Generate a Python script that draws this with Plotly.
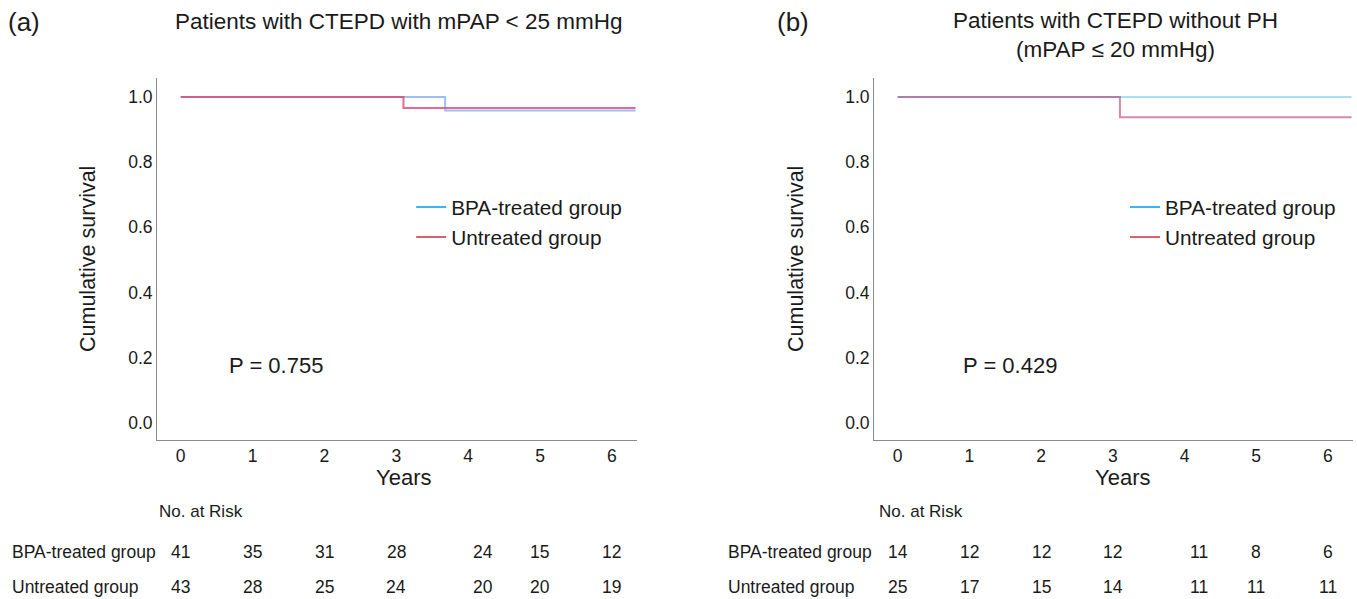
import plotly.graph_objects as go

# ---------------- data ----------------
years_ticks = [0, 1, 2, 3, 4, 5, 6]
y_ticks = [0.0, 0.2, 0.4, 0.6, 0.8, 1.0]

# Panel (a): Kaplan-Meier steps (time, survival)
a_bpa_t = [0, 3.68, 6.33]
a_bpa_s = [1.0, 0.958, 0.958]
a_unt_t = [0, 3.10, 6.33]
a_unt_s = [1.0, 0.966, 0.966]

# Panel (b)
b_bpa_t = [0, 6.33]
b_bpa_s = [1.0, 1.0]
b_unt_t = [0, 3.10, 6.33]
b_unt_s = [1.0, 0.938, 0.938]

a_risk_bpa = [41, 35, 31, 28, 24, 15, 12]
a_risk_unt = [43, 28, 25, 24, 20, 20, 19]
b_risk_bpa = [14, 12, 12, 12, 11, 8, 6]
b_risk_unt = [25, 17, 15, 14, 11, 11, 11]

a_p = "P = 0.755"
b_p = "P = 0.429"
a_title = "Patients with CTEPD with mPAP < 25 mmHg"
b_title = "Patients with CTEPD without PH<br>(mPAP ≤ 20 mmHg)"
group_names = ["BPA-treated group", "Untreated group"]

# ---------------- styling ----------------
FONT = "Liberation Sans, Arial, sans-serif"
TXT = "#1a1a1a"
AX = "#8a8a8a"
LEG_BLUE = "#3cb4f0"
LEG_RED = "#d6606c"
W, H = 1357, 599
COL_SHIFT = [0, 0, 0, 0, 15, 0, 0]  # pixel nudge of risk-table columns

fig = go.Figure()

# panel a lines
fig.add_trace(go.Scatter(x=a_bpa_t, y=a_bpa_s, mode="lines", line_shape="hv",
                         line=dict(color="rgba(100,160,240,0.65)", width=2),
                         xaxis="x", yaxis="y", showlegend=False))
fig.add_trace(go.Scatter(x=a_unt_t, y=a_unt_s, mode="lines", line_shape="hv",
                         line=dict(color="rgba(220,70,110,0.8)", width=2),
                         xaxis="x", yaxis="y", showlegend=False))
# panel b lines
fig.add_trace(go.Scatter(x=b_bpa_t, y=b_bpa_s, mode="lines", line_shape="hv",
                         line=dict(color="rgba(110,200,245,0.6)", width=2),
                         xaxis="x2", yaxis="y2", showlegend=False))
fig.add_trace(go.Scatter(x=b_unt_t, y=b_unt_s, mode="lines", line_shape="hv",
                         line=dict(color="rgba(180,60,120,0.6)", width=2),
                         xaxis="x2", yaxis="y2", showlegend=False))

# legend entries
for leg, xa, ya in [("legend", "x", "y"), ("legend2", "x2", "y2")]:
    for name, col in zip(group_names, [LEG_BLUE, LEG_RED]):
        fig.add_trace(go.Scatter(x=[None], y=[None], mode="lines", name=name,
                                 line=dict(color=col, width=2),
                                 xaxis=xa, yaxis=ya, legend=leg, showlegend=True))

XR = [-0.33, 6.35]
YR = [-0.052, 1.058]
common_x = dict(range=XR, tickvals=years_ticks, showgrid=False, zeroline=False,
                showline=True, linecolor=AX, linewidth=1, ticks="",
                tickfont=dict(size=17.5, color=TXT, family=FONT), fixedrange=True)
common_y = dict(range=YR, tickvals=y_ticks, tickformat=".1f", showgrid=False,
                zeroline=False, showline=True, linecolor=AX, linewidth=1, ticks="",
                tickfont=dict(size=17.5, color=TXT, family=FONT), fixedrange=True)

YD = [1 - 440 / H, 1 - 78 / H]
fig.update_layout(
    width=W, height=H, autosize=False,
    margin=dict(l=0, r=0, t=0, b=0),
    paper_bgcolor="white", plot_bgcolor="white",
    font=dict(family=FONT, color=TXT),
    xaxis=dict(domain=[157 / W, 637 / W], anchor="y", **common_x),
    yaxis=dict(domain=YD, anchor="x", **common_y),
    xaxis2=dict(domain=[874 / W, 1353 / W], anchor="y2", **common_x),
    yaxis2=dict(domain=YD, anchor="x2", **common_y),
    legend=dict(x=0.303, y=1 - 222.5 / H, xanchor="left", yanchor="middle",
                font=dict(size=20.8, family=FONT, color=TXT), bgcolor="rgba(0,0,0,0)",
                tracegroupgap=0, itemwidth=30),
    legend2=dict(x=0.829, y=1 - 222.5 / H, xanchor="left", yanchor="middle",
                 font=dict(size=20.8, family=FONT, color=TXT), bgcolor="rgba(0,0,0,0)",
                 tracegroupgap=0, itemwidth=30),
)

ann = []
def add(text, x, y, xref="paper", yref="paper", size=20, xanchor="center",
        yanchor="middle", angle=0, xshift=0):
    ann.append(dict(text=text, x=x, y=y, xref=xref, yref=yref, showarrow=False,
                    font=dict(size=size, family=FONT, color=TXT),
                    xanchor=xanchor, yanchor=yanchor, textangle=angle, xshift=xshift))

# panel labels and titles
add("(a)", 6 / W, 1 - 22 / H, xanchor="left", size=26)
add(a_title, 398 / W, 1 - 22 / H, size=22.5)
add("(b)", 775 / W, 1 - 22 / H, xanchor="left", size=26)
add(b_title, 1115 / W, 1 - 35 / H, size=22.5)

# axis titles
add("Cumulative survival", 88 / W, 1 - 259 / H, size=21.5, angle=-90)
add("Cumulative survival", 796 / W, 1 - 259 / H, size=21.5, angle=-90)
add("Years", 403 / W, 1 - 477 / H, size=22)
add("Years", 1122 / W, 1 - 477 / H, size=22)

# p values
add(a_p, 0.65, 0.175, xref="x", yref="y", size=22, xanchor="left")
add(b_p, 0.88, 0.175, xref="x2", yref="y2", size=22, xanchor="left")

# risk tables
for xr, xstart, lstart, rb, ru in [("x", 157, 10, a_risk_bpa, a_risk_unt),
                                    ("x2", 877, 726, b_risk_bpa, b_risk_unt)]:
    add("No. at Risk", xstart / W, 1 - 511 / H, size=17, xanchor="left")
    add(group_names[0], lstart / W, 1 - 552 / H, size=17.5, xanchor="left")
    add(group_names[1], lstart / W, 1 - 587 / H, size=17.5, xanchor="left")
    for t, v1, v2, sh in zip(years_ticks, rb, ru, COL_SHIFT):
        add(str(v1), t, 1 - 552 / H, xref=xr, size=17.5, xshift=sh)
        add(str(v2), t, 1 - 587 / H, xref=xr, size=17.5, xshift=sh)

fig.update_layout(annotations=ann)
fig.write_html("out.html", post_script="document.body.style.margin='0';",
               config={"displayModeBar": False})
